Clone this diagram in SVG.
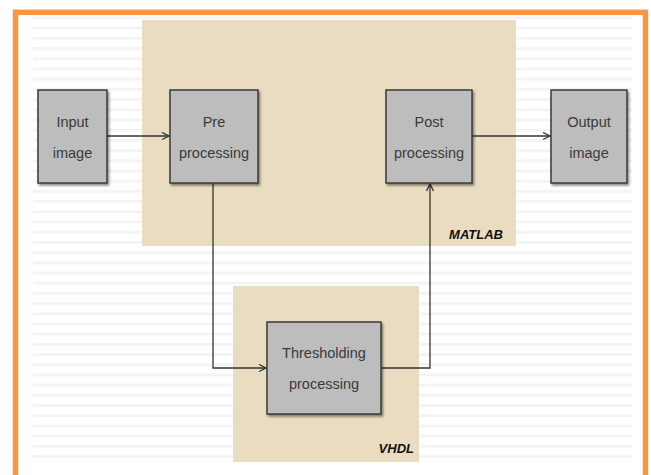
<svg xmlns="http://www.w3.org/2000/svg" width="651" height="475" viewBox="0 0 651 475">
<defs>
<pattern id="stripes" x="0" y="6.3" width="10" height="10.2" patternUnits="userSpaceOnUse">
<rect x="0" y="0" width="10" height="3" fill="#f4f4f4"/>
</pattern>
<filter id="sh" x="-10%" y="-10%" width="130%" height="130%">
<feDropShadow dx="1.5" dy="2" stdDeviation="1" flood-color="#000" flood-opacity="0.45"/>
</filter>
<marker id="arr" markerWidth="10" markerHeight="10" refX="8" refY="4" orient="auto" markerUnits="userSpaceOnUse">
<path d="M1,0.5 L8,4 L1,7.5" fill="none" stroke="#333" stroke-width="1.3"/>
</marker>
</defs>
<style>
.box{fill:#bdbdbd;stroke:#3a3a3a;stroke-width:1.5;filter:url(#sh)}
.lbl{font-family:"Liberation Sans",Arial,sans-serif;font-size:14.5px;fill:#3a3a3a;text-anchor:middle}
.grp{font-family:"Liberation Sans",Arial,sans-serif;font-size:13px;font-weight:bold;font-style:italic;fill:#111;text-anchor:end}
.conn{fill:none;stroke:#333;stroke-width:1.3}
.zone{fill:#eadcc0}
</style>
<rect width="651" height="475" fill="#fff"/>
<rect x="33" y="16" width="599" height="442" fill="url(#stripes)"/>
<rect x="15.5" y="12.3" width="630" height="475" fill="none" stroke="#f79646" stroke-width="5.5"/>
<rect class="zone" x="142" y="20" width="374" height="226"/>
<rect class="zone" x="233" y="286" width="186" height="176"/>
<text class="grp" x="503" y="239">MATLAB</text>
<text class="grp" x="414" y="453">VHDL</text>
<g id="connectors">
<path class="conn" d="M107,136 H169" marker-end="url(#arr)"/>
<path class="conn" d="M213,183 V368 H266" marker-end="url(#arr)"/>
<path class="conn" d="M381,368 H430 V184" marker-end="url(#arr)"/>
<path class="conn" d="M472,136 H550" marker-end="url(#arr)"/>
</g>
<g id="input">
<rect class="box" x="38" y="90" width="69" height="93"/>
<text class="lbl" x="72.5" y="127">Input</text>
<text class="lbl" x="72.5" y="158">image</text>
</g>
<g id="pre">
<rect class="box" x="170" y="90" width="88" height="93"/>
<text class="lbl" x="214" y="127">Pre</text>
<text class="lbl" x="214" y="158">processing</text>
</g>
<g id="post">
<rect class="box" x="386" y="90" width="86" height="93"/>
<text class="lbl" x="429" y="127">Post</text>
<text class="lbl" x="429" y="158">processing</text>
</g>
<g id="output">
<rect class="box" x="551" y="90" width="76" height="93"/>
<text class="lbl" x="589" y="127">Output</text>
<text class="lbl" x="589" y="158">image</text>
</g>
<g id="thresholding">
<rect class="box" x="267" y="322" width="114" height="92"/>
<text class="lbl" x="324" y="358">Thresholding</text>
<text class="lbl" x="324" y="389">processing</text>
</g>
</svg>
